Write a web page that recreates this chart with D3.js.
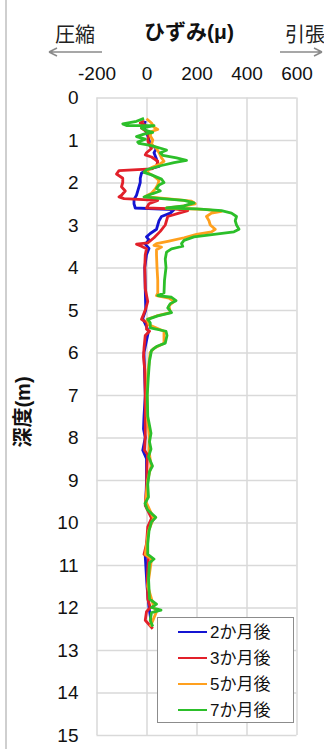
<!DOCTYPE html>
<html><head><meta charset="utf-8">
<script src="https://cdn.jsdelivr.net/npm/d3@7"></script>
<style>
body{margin:0;background:#fff;}
svg{display:block;font-family:"Liberation Sans","Noto Sans CJK JP",Arial,sans-serif;}
</style></head>
<body><svg id="c" width="324" height="749"></svg>
<script>
// ---- data: [depth (m), strain (μ)] ----
const xTicks = [-200, 0, 200, 400, 600];
const yTicks = [0,1,2,3,4,5,6,7,8,9,10,11,12,13,14,15];
const seriesNames = ["2か月後","3か月後","5か月後","7か月後"];
const seriesColors = ["#1414d2","#e2202a","#ffa01e","#2cbf2a"];

const m2 = [[0.55,-5],[0.7,-10],[0.9,5],[1.1,15],[1.2,40],[1.3,30],[1.45,40],[1.55,45],[1.62,50],[1.7,0],[1.78,-20],[1.9,-25],[2.0,-25],[2.1,-30],[2.2,-35],[2.3,-40],[2.4,-50],[2.5,-50],[2.6,-45],[2.64,110],[2.72,95],[2.8,60],[2.9,50],[3.0,45],[3.1,40],[3.2,15],[3.28,0],[3.35,10],[3.45,-5],[3.55,10],[3.7,0],[4.0,-7],[5.0,-3],[5.2,-15],[5.5,8],[6.0,-10],[7.0,-5],[7.5,-10],[7.8,-12],[8.0,-5],[8.3,-15],[8.5,0],[9.0,0],[9.6,-3],[9.9,30],[10.1,10],[10.8,-5],[11.5,2],[12.0,10],[12.4,20]];

const m3 = [[0.55,-10],[0.6,-25],[0.65,-5],[0.72,-20],[0.8,0],[0.9,10],[1.0,5],[1.1,10],[1.2,20],[1.3,0],[1.35,-5],[1.4,20],[1.5,45],[1.62,40],[1.68,20],[1.72,-110],[1.8,-120],[1.9,-95],[2.0,-95],[2.1,-100],[2.2,-85],[2.3,-100],[2.34,-110],[2.38,-90],[2.42,45],[2.5,10],[2.6,0],[2.62,110],[2.66,165],[2.72,130],[2.8,85],[3.0,75],[3.15,55],[3.3,30],[3.42,5],[3.45,-40],[3.5,-20],[3.56,0],[3.7,-5],[4.0,-7],[4.5,-5],[4.8,5],[4.95,-2],[5.15,-15],[5.22,-20],[5.3,2],[5.45,0],[5.5,12],[5.6,-5],[5.9,-10],[6.1,-12],[6.4,-7],[7.0,-5],[7.5,-5],[8.0,-5],[8.3,-8],[8.4,4],[8.7,2],[9.2,0],[9.6,-5],[9.9,20],[10.1,5],[10.5,0],[10.75,-10],[10.82,8],[11.3,3],[11.8,5],[12.0,15],[12.1,0],[12.3,-5],[12.5,25]];

const m5 = [[0.5,0],[0.6,20],[0.7,30],[0.75,45],[0.8,20],[0.9,15],[1.0,25],[1.1,20],[1.2,40],[1.3,50],[1.42,60],[1.5,70],[1.58,50],[1.65,20],[1.75,0],[1.85,30],[1.95,50],[2.05,45],[2.15,35],[2.25,20],[2.33,-5],[2.38,80],[2.44,180],[2.5,195],[2.56,140],[2.6,80],[2.63,230],[2.68,300],[2.72,260],[2.8,240],[2.9,250],[3.0,255],[3.1,275],[3.16,260],[3.22,200],[3.3,150],[3.38,90],[3.44,40],[3.48,30],[3.52,60],[3.58,40],[3.7,40],[4.0,42],[4.3,45],[4.6,45],[4.66,40],[4.72,90],[4.8,110],[4.9,90],[5.06,95],[5.14,40],[5.22,2],[5.35,10],[5.5,70],[5.78,70],[5.9,30],[6.0,15],[6.5,5],[7.0,2],[7.5,3],[8.0,12],[8.3,10],[8.67,18],[9.0,5],[9.5,-3],[9.9,28],[10.2,8],[10.75,-5],[10.86,20],[11.5,5],[12.0,30],[12.1,40],[12.45,15]];

const m7 = [[0.49,-10],[0.56,-40],[0.62,-95],[0.66,-80],[0.66,30],[0.72,-20],[0.78,0],[0.82,25],[0.86,-10],[0.92,-40],[0.98,-5],[1.05,-35],[1.08,-30],[1.12,10],[1.15,30],[1.2,60],[1.24,80],[1.3,55],[1.36,65],[1.42,120],[1.48,160],[1.53,110],[1.6,60],[1.7,0],[1.76,-10],[1.82,20],[1.92,60],[2.0,70],[2.06,50],[2.14,40],[2.2,55],[2.26,25],[2.34,-10],[2.38,60],[2.42,150],[2.48,190],[2.55,150],[2.6,80],[2.62,200],[2.66,300],[2.72,340],[2.8,360],[2.9,355],[3.0,360],[3.1,370],[3.16,350],[3.22,270],[3.28,190],[3.36,150],[3.44,140],[3.5,145],[3.56,100],[3.64,80],[3.8,75],[4.0,78],[4.3,72],[4.6,70],[4.66,45],[4.7,100],[4.78,118],[4.85,95],[4.95,85],[5.06,100],[5.14,45],[5.22,5],[5.3,15],[5.42,15],[5.5,78],[5.6,82],[5.78,75],[5.86,40],[5.95,20],[6.2,12],[6.6,7],[7.0,3],[7.5,5],[7.9,18],[8.1,12],[8.27,18],[8.45,8],[8.67,24],[8.8,12],[9.1,5],[9.4,8],[9.55,-6],[9.7,4],[9.88,37],[9.98,20],[10.2,10],[10.5,5],[10.75,5],[10.86,30],[10.95,12],[11.3,8],[11.8,12],[11.92,40],[12.0,20],[12.06,58],[12.12,20],[12.3,15],[12.45,25]];

const allSeries = [m2, m3, m5, m7];

// ---- drawing ----
const svg = d3.select("#c");
const x = d3.scaleLinear().domain([-200, 600]).range([96.5, 296.5]);
const y = d3.scaleLinear().domain([0, 15]).range([97.5, 735]);

// left border line
svg.append("line").attr("x1",6).attr("x2",6).attr("y1",0).attr("y2",749)
  .attr("stroke","#cfcfcf").attr("stroke-width",2);

// grid + axes
const gx = svg.append("g").attr("transform",`translate(0,${y(0)})`)
  .call(d3.axisTop(x).tickValues(xTicks).tickFormat(d => String(d))
    .tickSize(-(y(15)-y(0))).tickPadding(18));
const gy = svg.append("g").attr("transform",`translate(${x(-200)},0)`)
  .call(d3.axisLeft(y).tickValues(yTicks).tickFormat(d => String(d))
    .tickSize(-(x(600)-x(-200))).tickPadding(18));
[gx, gy].forEach(g => {
  g.select(".domain").remove();
  g.selectAll(".tick line").attr("stroke","#d9d9d9").attr("stroke-width",1.5);
  g.selectAll(".tick text").attr("fill","#111").style("font-size","19px");
});
gy.selectAll(".tick text").attr("x",-18);

// lines
const line = d3.line().x(d => x(d[1])).y(d => y(d[0]));
allSeries.forEach((s, i) => {
  svg.append("path").datum(s).attr("d", line)
    .attr("fill","none").attr("stroke",seriesColors[i])
    .attr("stroke-width",2.8).attr("stroke-linejoin","round");
});

// titles
svg.append("text").attr("x",189).attr("y",39).attr("text-anchor","middle")
  .style("font-size","21px").style("font-weight","bold").attr("fill","#111").text("ひずみ(μ)");
svg.append("text").attr("x",75).attr("y",42).attr("text-anchor","middle")
  .style("font-size","20px").attr("fill","#222").text("圧縮");
svg.append("text").attr("x",285).attr("y",42)
  .style("font-size","20px").attr("fill","#222").text("引張");
svg.append("text").attr("transform","translate(30,412) rotate(-90)").attr("text-anchor","middle")
  .style("font-size","20px").style("font-weight","bold").attr("fill","#111").text("深度(m)");

// arrows
const ac = "#8a8a8a";
svg.append("path").attr("d","M49,52 H102 M49,52 l8,-4 M49,52 l8,4")
  .attr("stroke",ac).attr("stroke-width",1.5).attr("fill","none");
svg.append("path").attr("d","M280,52 H322 M322,52 l-8,-4 M322,52 l-8,4")
  .attr("stroke",ac).attr("stroke-width",1.5).attr("fill","none");

// legend
const lg = svg.append("g");
lg.append("rect").attr("x",157.5).attr("y",617.5).attr("width",136).attr("height",105)
  .attr("fill","#fff").attr("stroke","#8c8c8c").attr("stroke-width",1);
const ly = d3.scalePoint().domain(seriesNames).range([632, 710]);
seriesNames.forEach((n, i) => {
  lg.append("line").attr("x1",178).attr("x2",207).attr("y1",ly(n)).attr("y2",ly(n))
    .attr("stroke",seriesColors[i]).attr("stroke-width",2);
  lg.append("text").attr("x",210).attr("y",ly(n)).attr("dy","0.36em")
    .style("font-size","17px").attr("fill","#111").text(n);
});
</script></body></html>
